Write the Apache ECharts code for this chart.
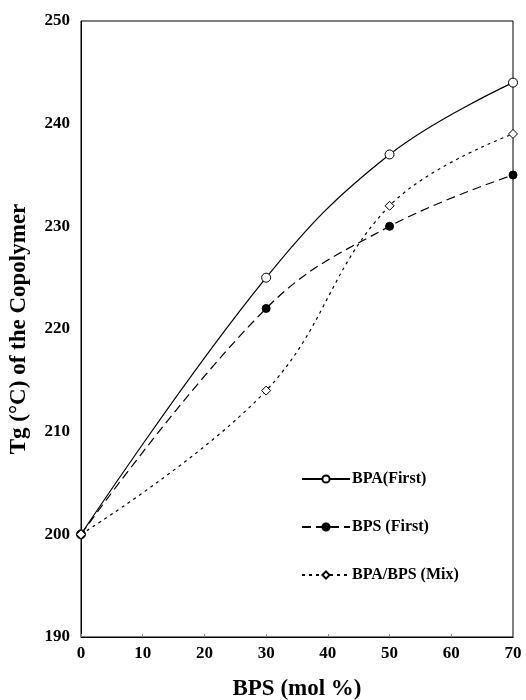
<!DOCTYPE html>
<html>
<head>
<meta charset="utf-8">
<script src="https://cdn.jsdelivr.net/npm/echarts@6/dist/echarts.min.js"></script>
<style>
  html, body { margin: 0; padding: 0; background: #fff; }
  #chart { width: 526px; height: 700px; }
</style>
</head>
<body>
<div id="chart"></div>
<script>
// 数据：BPS 含量 (mol %) 与共聚物 Tg
var bpsMol = [0, 30, 50, 70];
var bpaFirst = [200, 225, 237, 244];
var bpsFirst = [200, 222, 230, 235];
var bpaBpsMix = [200, 214, 232, 239];
var names = ['BPA(First)', 'BPS (First)', 'BPA/BPS (Mix)'];

function pairs(ys) {
  var out = [];
  for (var i = 0; i < bpsMol.length; i++) out.push([bpsMol[i], ys[i]]);
  return out;
}

var font = 'Liberation Serif';
var myChart = echarts.init(document.getElementById('chart'));

myChart.setOption({
  animation: false,
  grid: {
    left: 81, right: 13, top: 21, bottom: 63,
    outerBoundsMode: 'none', containLabel: false,
    show: true, borderColor: '#000', borderWidth: 1
  },
  legend: {
    orient: 'vertical',
    left: 296, top: 466,
    itemWidth: 48, itemHeight: 9, itemGap: 32,
    data: names,
    textStyle: { fontFamily: font, fontWeight: 'bold', fontSize: 16, color: '#000', padding: [0, 0, 0, -3] }
  },
  xAxis: {
    type: 'value', min: 0, max: 70, interval: 10,
    name: 'BPS (mol %)', nameLocation: 'middle', nameGap: 41,
    nameTextStyle: { fontFamily: font, fontWeight: 'bold', fontSize: 23, color: '#000' },
    axisLine: { lineStyle: { color: '#000' } },
    axisTick: { inside: true, length: 3, lineStyle: { color: '#888' } },
    splitLine: { show: false },
    axisLabel: { fontFamily: font, fontWeight: 'bold', fontSize: 17, color: '#000', margin: 8 }
  },
  yAxis: {
    type: 'value', min: 190, max: 250, interval: 10,
    name: 'Tg (°C) of the Copolymer', nameLocation: 'middle', nameGap: 50,
    nameTextStyle: { fontFamily: font, fontWeight: 'bold', fontSize: 23, color: '#000' },
    axisLine: { lineStyle: { color: '#000' } },
    axisTick: { show: false },
    splitLine: { show: false },
    axisLabel: { fontFamily: font, fontWeight: 'bold', fontSize: 17, color: '#000', margin: 11 }
  },
  series: [
    {
      name: names[0], type: 'line', smooth: 0.4, data: pairs(bpaFirst),
      symbol: 'circle', symbolSize: 9,
      lineStyle: { color: '#000', width: 1.2 },
      itemStyle: { color: '#fff', borderColor: '#000', borderWidth: 1 }
    },
    {
      name: names[1], type: 'line', smooth: 0.4, data: pairs(bpsFirst),
      symbol: 'circle', symbolSize: 8,
      lineStyle: { color: '#000', width: 1.2, type: [9, 5] },
      itemStyle: { color: '#000', borderColor: '#000', borderWidth: 1 }
    },
    {
      name: names[2], type: 'line', smooth: 0.4, data: pairs(bpaBpsMix),
      symbol: 'diamond', symbolSize: 9,
      lineStyle: { color: '#000', width: 1.2, type: [3, 4] },
      itemStyle: { color: '#fff', borderColor: '#000', borderWidth: 1 }
    }
  ]
});
</script>
</body>
</html>
